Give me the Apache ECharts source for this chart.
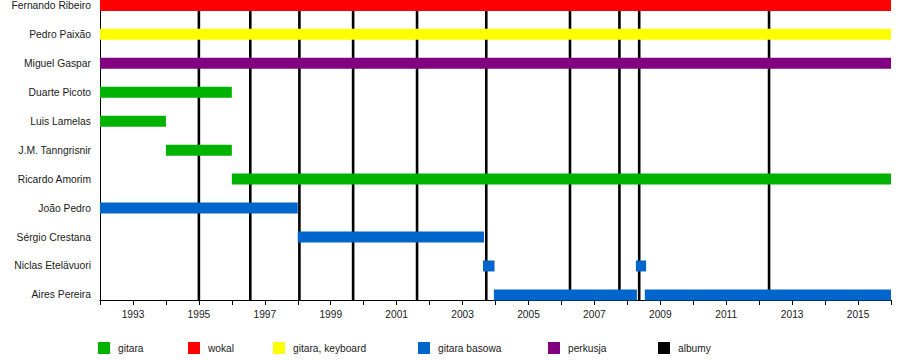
<!DOCTYPE html>
<html>
<head>
<meta charset="utf-8">
<script src="https://cdn.jsdelivr.net/npm/echarts@6/dist/echarts.min.js"></script>
<style>
html,body{margin:0;padding:0;background:#fff;}
#chart{width:900px;height:360px;}
</style>
</head>
<body>
<div id="chart"></div>
<script>
// ---- data ----
const members = ['Fernando Ribeiro','Pedro Paixão','Miguel Gaspar','Duarte Picoto','Luis Lamelas','J.M. Tanngrisnir','Ricardo Amorim','João Pedro','Sérgio Crestana','Niclas Etelävuori','Aires Pereira'];
const roleNames = ['gitara','wokal','gitara, keyboard','gitara basowa','perkusja','albumy'];
const gitara = [['Duarte Picoto',1992,1996],['Luis Lamelas',1992,1994],['J.M. Tanngrisnir',1994,1996],['Ricardo Amorim',1996,2016]];
const wokal = [['Fernando Ribeiro',1992,2016]];
const gitaraKeyboard = [['Pedro Paixão',1992,2016]];
const gitaraBasowa = [['João Pedro',1992,1998],['Sérgio Crestana',1998,2003.65],['Niclas Etelävuori',2003.62,2003.97],['Niclas Etelävuori',2008.26,2008.57],['Aires Pereira',2003.95,2008.29],['Aires Pereira',2008.53,2016]];
const perkusja = [['Miguel Gaspar',1992,2016]];
const albumy = [1995.0,1996.56,1998.05,1999.68,2001.62,2003.72,2006.26,2007.76,2008.36,2012.30];
const yearStart = 1992, yearEnd = 2016;

// ---- styles ----
const colors = {'gitara':'#00B300','wokal':'#FF0000','gitara, keyboard':'#FFFF00','gitara basowa':'#0066CC','perkusja':'#800080','albumy':'#000000'};
const FONT = "'Liberation Sans', Arial, sans-serif";
const BAR_H = 11;

function barSeries(name, rows){
  return {
    name: name,
    type: 'custom',
    z: 3,
    itemStyle: {color: colors[name]},
    encode: {x:[1,2], y:0},
    data: rows.map(r => [members.indexOf(r[0]), r[1], r[2]]),
    renderItem: function(params, api){
      const s = api.coord([api.value(1), api.value(0)]);
      const e = api.coord([api.value(2), api.value(0)]);
      return {type:'rect', shape:{x:s[0], y:s[1]-BAR_H/2, width:e[0]-s[0], height:BAR_H}, style:{fill: colors[name]}};
    }
  };
}

const albumSeries = {
  name: 'albumy',
  type: 'custom',
  z: 1,
  itemStyle: {color: colors['albumy']},
  encode: {x:0},
  data: albumy.map(v => [v]),
  renderItem: function(params, api){
    const x = api.coord([api.value(0), 0])[0];
    const cs = params.coordSys;
    return {type:'line', shape:{x1:x, y1:cs.y, x2:x, y2:cs.y+cs.height}, style:{stroke:'#000', lineWidth:2.6}};
  }
};

const legendLeft = [98, 188, 273, 418, 548, 658];

const option = {
  animation: false,
  backgroundColor: '#fff',
  textStyle: {fontFamily: FONT},
  grid: {left: 100, right: 9, top: 0, bottom: 60, containLabel: false},
  xAxis: {
    type: 'value', min: yearStart, max: yearEnd, interval: 1,
    splitLine: {show: false},
    axisLine: {onZero: false, lineStyle: {color: '#000', width: 1}},
    axisTick: {length: 5, lineStyle: {color: '#000'}},
    axisLabel: {fontSize: 10.2, color: '#1a1a1a', fontFamily: FONT, margin: 9,
      formatter: v => (Math.round(v) % 2 === 1 ? String(Math.round(v)) : '')}
  },
  yAxis: {
    type: 'value', inverse: true, min: -0.187, max: 10.176,
    splitLine: {show: false},
    axisLine: {show: true, onZero: false, lineStyle: {color: '#000', width: 1}},
    axisTick: {show: false},
    axisLabel: {fontSize: 10.3, color: '#1a1a1a', fontFamily: FONT, margin: 9,
      customValues: members.map((m, i) => i),
      formatter: v => members[Math.round(v)] || ''}
  },
  legend: roleNames.map((n, i) => ({
    data: [n], left: legendLeft[i], top: 342, padding: 0, itemWidth: 12, itemHeight: 12, icon: 'rect',
    selectedMode: false,
    textStyle: {fontSize: 10.2, color: '#1a1a1a', fontFamily: FONT, padding: [0,0,0,3]}
  })),
  series: [
    albumSeries,
    barSeries('gitara', gitara),
    barSeries('wokal', wokal),
    barSeries('gitara, keyboard', gitaraKeyboard),
    barSeries('gitara basowa', gitaraBasowa),
    barSeries('perkusja', perkusja)
  ]
};

const chart = echarts.init(document.getElementById('chart'), null, {renderer: 'svg'});
chart.setOption(option);
</script>
</body>
</html>
